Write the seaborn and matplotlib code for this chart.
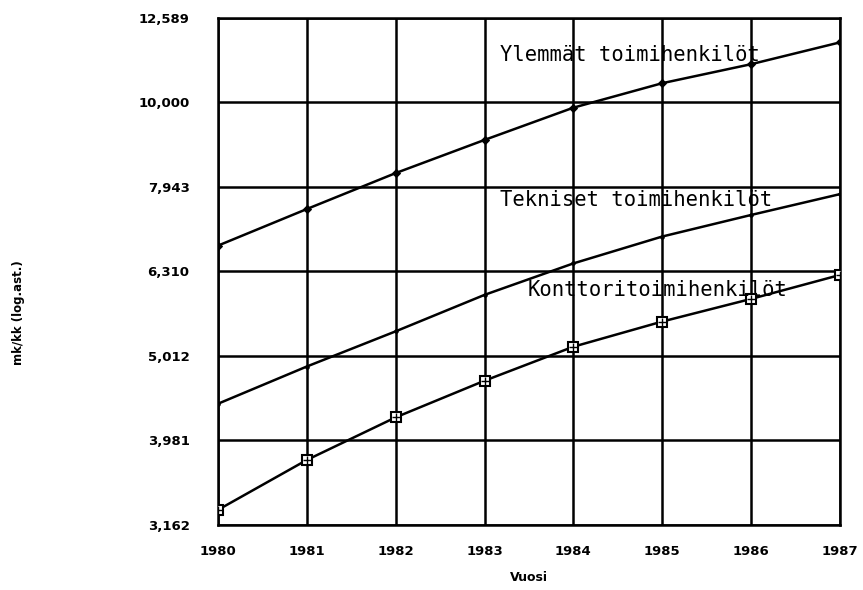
import numpy as np
import pandas as pd
import seaborn as sns
import matplotlib.pyplot as plt

# vuodet ja palkat (mk/kk), luettu kuvasta
years = [1980, 1981, 1982, 1983, 1984, 1985, 1986, 1987]
ylemmat = [6770, 7480, 8250, 9030, 9860, 10540, 11100, 11780]
tekniset = [4400, 4870, 5360, 5920, 6450, 6940, 7360, 7790]
konttori = [3295, 3775, 4240, 4685, 5140, 5505, 5855, 6250]

ytick_vals = [3162, 3981, 5012, 6310, 7943, 10000, 12589]
ytick_labels = ["3,162", "3,981", "5,012", "6,310", "7,943", "10,000", "12,589"]

df = pd.DataFrame({
    "Vuosi": years * 3,
    "mk": ylemmat + tekniset + konttori,
    "ryhma": ["Ylemmät toimihenkilöt"] * 8 + ["Tekniset toimihenkilöt"] * 8
             + ["Konttoritoimihenkilöt"] * 8,
})

sns.set_style("white")
plt.rcParams['font.family'] = ['DejaVu Sans']

fig = plt.figure(figsize=(8.63, 5.90), dpi=100)
ax = fig.add_axes([0.2526, 0.1102, 0.7207, 0.8593])

d = df[df.ryhma == "Ylemmät toimihenkilöt"]
sns.lineplot(data=d, x="Vuosi", y="mk", ax=ax, color="black", lw=1.8,
             marker="D", markersize=4.5, markeredgecolor="black", zorder=3)
d = df[df.ryhma == "Tekniset toimihenkilöt"]
sns.lineplot(data=d, x="Vuosi", y="mk", ax=ax, color="black", lw=1.8,
             marker="o", markersize=2.5, markeredgecolor="black", zorder=3)
d = df[df.ryhma == "Konttoritoimihenkilöt"]
sns.lineplot(data=d, x="Vuosi", y="mk", ax=ax, color="black", lw=1.8,
             marker="s", markersize=7, markerfacecolor="white",
             markeredgecolor="black", markeredgewidth=1.5, zorder=3)
sns.scatterplot(data=d, x="Vuosi", y="mk", ax=ax, color="black", marker="+",
                s=30, linewidth=1.0, zorder=4)

ax.set_yscale("log")
ax.set_xlim(1980, 1987)
ax.set_ylim(10 ** 3.5, 10 ** 4.1)
ax.set_yticks(ytick_vals)
ax.set_yticklabels(ytick_labels)
ax.minorticks_off()
ax.set_xticks(years)
ax.set_xticklabels([str(y) for y in years])

ax.grid(True, color="black", lw=1.8)
for s in ax.spines.values():
    s.set_color("black")
    s.set_linewidth(1.8)
ax.tick_params(axis="both", direction="inout", length=9, width=1.5,
               labelsize=9.5, colors="black")
ax.tick_params(axis="y", pad=16)
ax.tick_params(axis="x", pad=10)
for lab in ax.get_xticklabels() + ax.get_yticklabels():
    lab.set_fontweight("bold")

ax.set_xlabel("")
ax.set_ylabel("")
fig.text(0.613, 0.022, "Vuosi", fontsize=9, fontweight="bold",
         color="black", ha="center", va="center")
fig.text(0.022, 0.47, "mk/kk (log.ast.)", rotation=90, fontsize=8.5,
         fontweight="bold", color="black", ha="center", va="center")

mono = dict(family="DejaVu Sans Mono", fontsize=14.8, color="black",
            va="center", ha="left", zorder=5)
ax.text(1983.17, 11380, "Ylemmät toimihenkilöt", **mono)
ax.text(1983.17, 7668, "Tekniset toimihenkilöt", **mono)
ax.text(1983.48, 5998, "Konttoritoimihenkilöt", **mono)

fig.savefig("out.png", dpi=100)
